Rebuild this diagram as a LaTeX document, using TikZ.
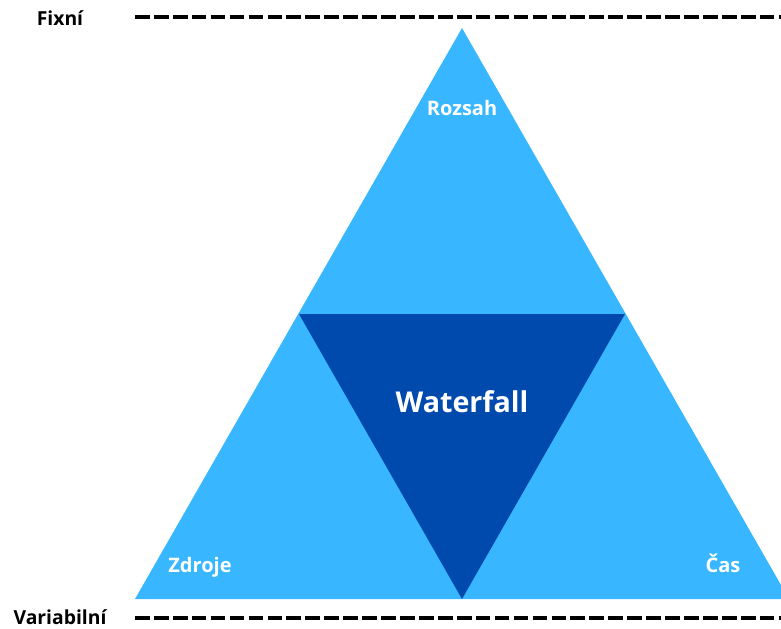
\documentclass[tikz,border=0pt]{standalone}
\usepackage{fontspec}
\setmainfont{Open Sans}
\usepackage{tikz}

\definecolor{skyblue}{HTML}{38B6FF}
\definecolor{deepblue}{HTML}{004AAD}

\tikzset{
    label/.style={white, font=\bfseries\fontsize{15}{18}\selectfont, anchor=base},
    side/.style={black, font=\bfseries\fontsize{14.5}{17}\selectfont, anchor=base},
    limit/.style={line width=3.2pt, dash pattern=on 11pt off 3.2pt}
}

\begin{document}
\begin{tikzpicture}[x=0.75pt, y=-0.75pt]
    \useasboundingbox (0,0) rectangle (781,628);
    \clip (0,0) rectangle (781,628);
    % outer and inner triangle
    \fill[skyblue](462,28)--(135,599)--(789,599)--cycle;
    \fill[deepblue](299,314)--(625,314)--(462,599)--cycle;
    % limits
    \coordinate (fixstart) at (135,17);
    \coordinate (fixend) at (785,17);
    \coordinate (varstart) at (135,618);
    \coordinate (varend) at (785,618);
    \draw[limit](fixstart)--(fixend);
    \draw[limit](varstart)--(varend);
    \node[side] (fixni) at (60,26) {Fixní};
    \node[side] (variabilni) at (60,624) {Variabilní};
    % labels
    \node[label] (rozsah) at (462,115) {Rozsah};
    \node[label] (zdroje) at (200,572) {Zdroje};
    \node[label] (cas) at (723,572) {Čas};
    \node[label, font=\bfseries\fontsize{21.5}{26}\selectfont] (waterfall) at (462,412) {Waterfall};
\end{tikzpicture}
\end{document}
